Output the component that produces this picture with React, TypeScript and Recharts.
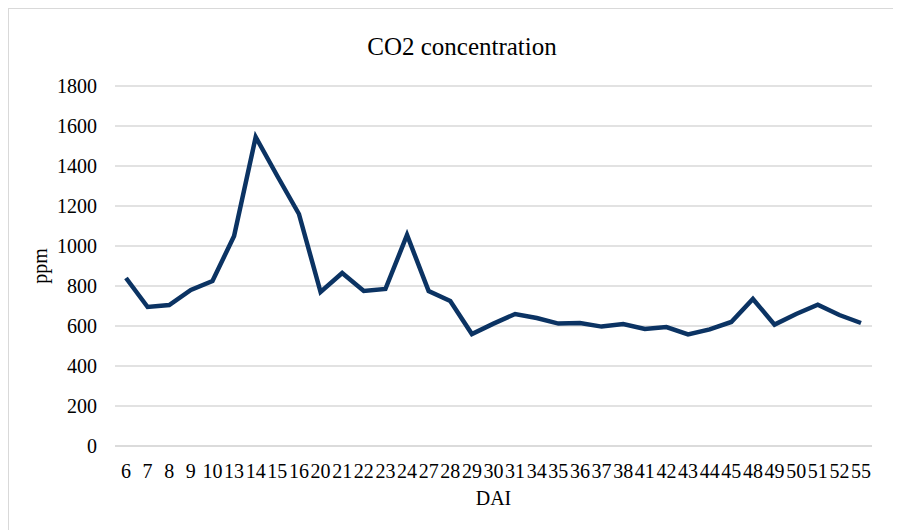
import { LineChart, Line, XAxis, YAxis, CartesianGrid } from 'recharts';

// Days after inoculation and the measured CO2 level for each day
const days = [
  '6', '7', '8', '9', '10', '13', '14', '15', '16', '20', '21', '22', '23', '24',
  '27', '28', '29', '30', '31', '34', '35', '36', '37', '38', '41', '42', '43',
  '44', '45', '48', '49', '50', '51', '52', '55',
];
const co2 = [
  840, 695, 705, 780, 825, 1050, 1545, 1350, 1160, 770, 865, 775, 785, 1055,
  775, 725, 560, 612, 660, 640, 612, 615, 597, 610, 585, 595, 558,
  583, 620, 735, 607, 660, 707, 655, 615,
];
const yTicks = [0, 200, 400, 600, 800, 1000, 1200, 1400, 1600, 1800];

const data = days.map((d, i) => ({ day: d, co2: co2[i] }));

const font = "'Liberation Serif', 'DejaVu Serif', serif";
const tickStyle = { fontSize: 20, fill: '#000', fontFamily: font };

export default function App() {
  return (
    <div
      style={{
        width: 893,
        height: 522,
        boxSizing: 'border-box',
        borderTop: '1.5px solid #d9d9d9',
        borderLeft: '1.5px solid #d9d9d9',
        background: '#fff',
        overflow: 'hidden',
        fontFamily: font,
      }}
    >
      <LineChart
        width={891}
        height={520}
        data={data}
        margin={{ top: 77, right: 28, bottom: 0, left: 0 }}
        style={{ fontFamily: font }}
      >
        <text
          x={453}
          y={46}
          textAnchor="middle"
          fontFamily={font}
          fontSize={25}
          fill="#000"
        >
          CO2 concentration
        </text>
        <CartesianGrid vertical={false} stroke="#d9d9d9" strokeWidth={1.5} />
        <XAxis
          dataKey="day"
          interval={0}
          height={83}
          padding={{ left: 11, right: 11 }}
          axisLine={{ stroke: '#d9d9d9', strokeWidth: 1.5 }}
          tickLine={false}
          tickSize={6}
          tickMargin={12}
          tick={tickStyle}
          label={{
            content: ({ viewBox }: any) => (
              <text
                x={viewBox.x + viewBox.width / 2}
                y={viewBox.y + 59}
                textAnchor="middle"
                fontFamily={font}
                fontSize={20}
                fill="#000"
              >
                DAI
              </text>
            ),
          }}
        />
        <YAxis
          width={106}
          domain={[0, 1800]}
          ticks={yTicks}
          axisLine={false}
          tickLine={false}
          tickSize={6}
          tickMargin={12}
          tick={tickStyle}
          label={{
            content: ({ viewBox }: any) => {
              const cx = viewBox.x + 31;
              const cy = viewBox.y + viewBox.height / 2;
              return (
                <text
                  x={cx}
                  y={cy}
                  textAnchor="middle"
                  dominantBaseline="central"
                  transform={`rotate(-90 ${cx} ${cy})`}
                  fontFamily={font}
                  fontSize={20}
                  fill="#000"
                >
                  ppm
                </text>
              );
            },
          }}
        />
        <Line
          dataKey="co2"
          type="linear"
          stroke="#0b3363"
          strokeWidth={4.5}
          dot={false}
          activeDot={false}
          isAnimationActive={false}
        />
      </LineChart>
    </div>
  );
}
